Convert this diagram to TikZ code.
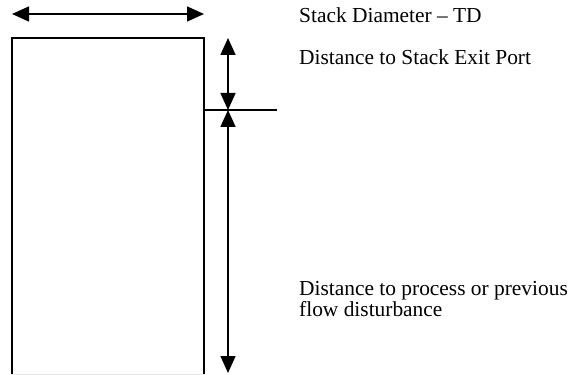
\documentclass[tikz,border=0pt]{standalone}
\usepackage{fontspec}
\setmainfont{Liberation Serif}
\usetikzlibrary{arrows.meta}

\begin{document}
\begin{tikzpicture}[x=1pt, y=-1pt,
	dimarrow/.style={line width=1.5pt, {Triangle[length=17pt,width=15pt]}-{Triangle[length=17pt,width=15pt]}},
	tagtext/.style={anchor=base west, inner sep=0pt, align=left, font=\fontsize{21.4}{21}\selectfont}]
\useasboundingbox (0,0) rectangle (569,374);
% stack outline
\coordinate (baseL) at (12,374);
\coordinate (topL) at (12,38);
\coordinate (topR) at (204,38);
\coordinate (baseR) at (204,374);
\draw [line width=1.6pt] (baseL) -- (topL) -- (topR) -- (baseR);
\draw [gray!20, line width=0.6pt] (baseL) -- (baseR);
% dimension arrows
\coordinate (diaL) at (12,14);
\coordinate (diaR) at (204,14);
\coordinate (portL) at (204,110);
\coordinate (portR) at (277,110);
\coordinate (exitT) at (228,38);
\coordinate (exitB) at (228,110);
\coordinate (procB) at (228,373);
\draw [dimarrow] (diaL) -- (diaR);
\draw [dimarrow] (exitT) -- (exitB);
\draw [dimarrow] (exitB) -- (procB);
\draw [line width=1.2pt] (portL) -- (portR);
% labels
\node [tagtext] (diatext) at (299,23) {Stack Diameter -- TD};
\node [tagtext] (porttext) at (299,65) {Distance to Stack Exit Port};
\node [tagtext] (proctext) at (299,316) {Distance to process or previous\\flow disturbance};
\end{tikzpicture}
\end{document}
